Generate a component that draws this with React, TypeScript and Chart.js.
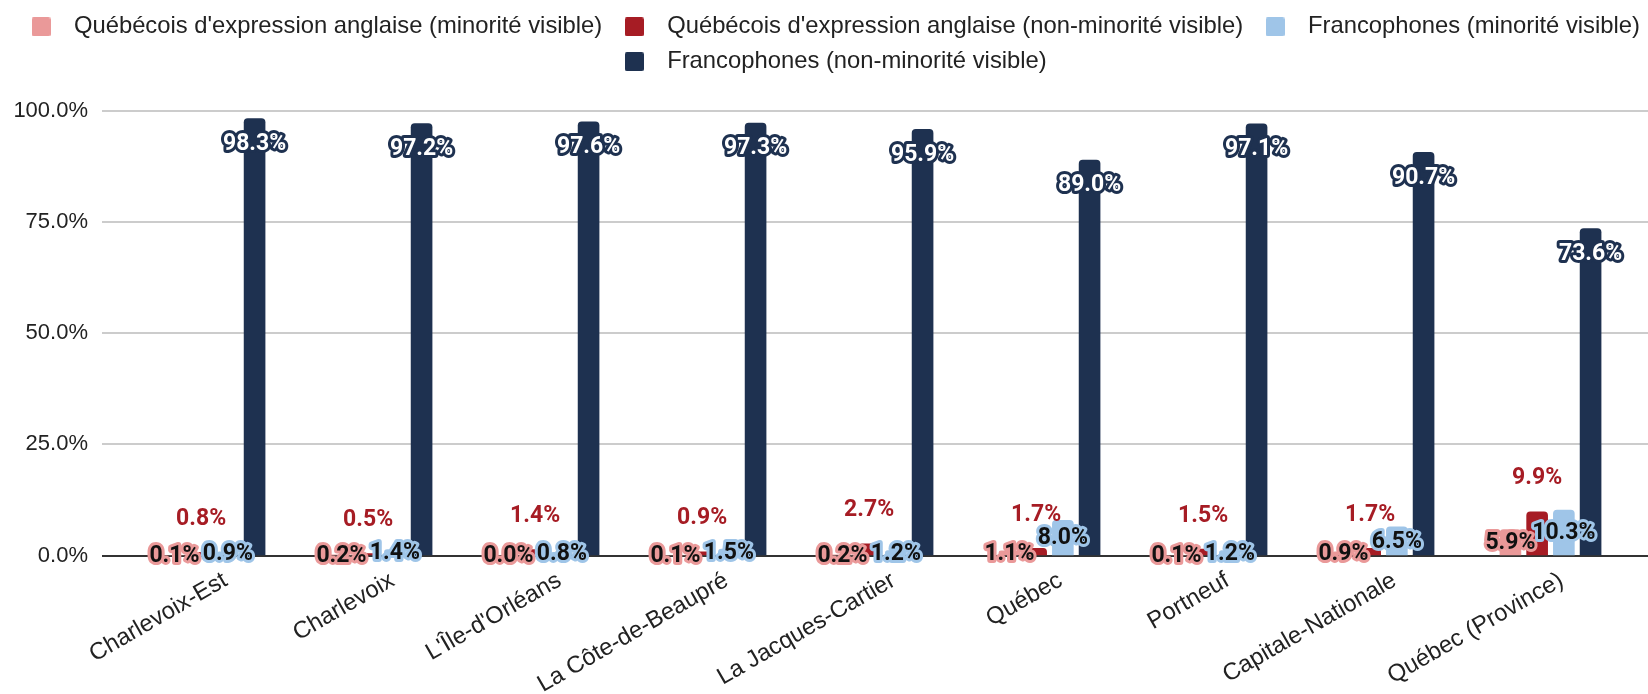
import React, { useEffect, useRef } from 'react';
import { Chart, registerables } from 'chart.js';

Chart.register(...registerables);

const categories = [
  'Charlevoix-Est',
  'Charlevoix',
  "L'Île-d'Orléans",
  'La Côte-de-Beaupré',
  'La Jacques-Cartier',
  'Québec',
  'Portneuf',
  'Capitale-Nationale',
  'Québec (Province)',
];

const seriesLabels = [
  "Québécois d'expression anglaise (minorité visible)",
  "Québécois d'expression anglaise (non-minorité visible)",
  'Francophones (minorité visible)',
  'Francophones (non-minorité visible)',
];

const anglophonesMinorite = [0.1, 0.2, 0.0, 0.1, 0.2, 1.1, 0.1, 0.9, 5.9];
const anglophonesNonMinorite = [0.8, 0.5, 1.4, 0.9, 2.7, 1.7, 1.5, 1.7, 9.9];
const francophonesMinorite = [0.9, 1.4, 0.8, 1.5, 1.2, 8.0, 1.2, 6.5, 10.3];
const francophonesNonMinorite = [98.3, 97.2, 97.6, 97.3, 95.9, 89.0, 97.1, 90.7, 73.6];

const yTickValues = [0, 25, 50, 75, 100];

const COLORS = ['#ea9999', '#a61c24', '#9fc5e8', '#1e3150'];
const LABEL_FILL = ['#111111', '#a61c24', '#111111', '#ffffff'];
const LABEL_STROKE = ['#ea9999', null, '#9fc5e8', '#1e3150'];

const AXIS_FONT = "'Liberation Sans', Arial, sans-serif";

function swatch(color: string) {
  const c = document.createElement('canvas');
  c.width = 19;
  c.height = 19;
  const g = c.getContext('2d')!;
  g.fillStyle = color;
  g.beginPath();
  if ((g as any).roundRect) (g as any).roundRect(0, 0, 19, 19, 2);
  else g.rect(0, 0, 19, 19);
  g.fill();
  return c;
}

const gridPlugin = {
  id: 'customGrid',
  beforeDatasetsDraw(chart: any) {
    const { ctx, chartArea, scales } = chart;
    const y = scales.y;
    ctx.save();
    yTickValues.forEach((v) => {
      const py = Math.round(y.getPixelForValue(v));
      ctx.beginPath();
      ctx.lineWidth = 2;
      ctx.strokeStyle = v === 0 ? '#333333' : '#cccccc';
      ctx.moveTo(chartArea.left - 29, py);
      ctx.lineTo(chart.width, py);
      ctx.stroke();
    });
    ctx.restore();
  },
};

const labelPlugin = {
  id: 'valueLabels',
  afterDatasetsDraw(chart: any) {
    const ctx = chart.ctx;
    ctx.save();
    ctx.font = "bold 23px Roboto, 'Liberation Sans', sans-serif";
    ctx.textAlign = 'center';
    ctx.textBaseline = 'middle';
    ctx.lineJoin = 'round';
    chart.data.datasets.forEach((ds: any, di: number) => {
      const meta = chart.getDatasetMeta(di);
      meta.data.forEach((bar: any, i: number) => {
        const v = ds.data[i] as number;
        const text = v.toFixed(1) + '%';
        const { x, y, base } = bar.getProps(['x', 'y', 'base'], true);
        let ly = (y + base) / 2 + 1;
        if (di === 1) ly = y - 33;
        if (di === 3) ly = y + 26;
        const stroke = LABEL_STROKE[di];
        if (stroke) {
          ctx.lineWidth = 6;
          ctx.strokeStyle = stroke;
          ctx.strokeText(text, x, ly);
        }
        ctx.fillStyle = LABEL_FILL[di];
        ctx.fillText(text, x, ly);
      });
    });
    ctx.restore();
  },
};

const legendPlugin = {
  id: 'legendHeight',
  afterInit(chart: any) {
    const legend = chart.legend;
    if (legend && !legend.__patched) {
      const orig = legend.fit;
      legend.fit = function () {
        const mw = this.maxWidth;
        this.maxWidth = mw + 20;
        orig.call(this);
        this.maxWidth = mw;
        this.width = mw;
        this.height = 106.7;
      };
      legend.__patched = true;
    }
  },
  afterLayout(chart: any) {
    const legend = chart.legend;
    if (legend) {
      legend.left = -2;
      legend.right = 1662;
    }
  },
};

export default function App() {
  const ref = useRef<HTMLCanvasElement>(null);

  useEffect(() => {
    const canvas = ref.current;
    if (!canvas) return;
    const values = [anglophonesMinorite, anglophonesNonMinorite, francophonesMinorite, francophonesNonMinorite];
    const chart = new Chart(canvas, {
      type: 'bar',
      data: {
        labels: categories,
        datasets: values.map((d, i) => ({
          label: seriesLabels[i],
          data: d,
          backgroundColor: COLORS[i],
          borderRadius: 4,
          borderSkipped: 'start',
          categoryPercentage: 0.64,
          barPercentage: 0.81,
        })),
      },
      options: {
        animation: false,
        responsive: false,
        devicePixelRatio: 1,
        layout: { padding: { top: 4, right: 14, left: 0, bottom: 0 } },
        plugins: {
          tooltip: { enabled: false },
          legend: {
            position: 'top',
            align: 'center',
            labels: {
              usePointStyle: true,
              pointStyleWidth: 42,
              boxHeight: 19,
              padding: 11,
              color: '#222222',
              font: { family: AXIS_FONT, size: 23.8 },
              generateLabels: (c: any) => {
                const items = Chart.defaults.plugins.legend.labels.generateLabels(c);
                return items.map((it: any, i: number) => ({ ...it, pointStyle: swatch(COLORS[i]) }));
              },
            },
          },
        },
        scales: {
          x: {
            grid: { display: false, drawTicks: false },
            border: { display: false },
            ticks: {
              autoSkip: false,
              minRotation: 30,
              maxRotation: 30,
              padding: 11,
              labelOffset: 11,
              color: '#222222',
              font: { family: AXIS_FONT, size: 23.8 },
            },
            afterFit: (s: any) => {
              s.height = 138.5;
            },
          },
          y: {
            min: 0,
            max: 100,
            grid: { display: false, drawTicks: false },
            border: { display: false },
            ticks: {
              stepSize: 25,
              padding: 43,
              color: '#222222',
              font: { family: AXIS_FONT, size: 22 },
              callback: (v: any) => Number(v).toFixed(1) + '%',
            },
            afterFit: (s: any) => {
              s.width = 131;
            },
          },
        },
      } as any,
      plugins: [gridPlugin, labelPlugin, legendPlugin],
    });
    return () => chart.destroy();
  }, []);

  return (
    <div style={{ position: 'absolute', left: 0, top: 0, width: 1648, height: 694, background: '#ffffff' }}>
      <canvas ref={ref} width={1648} height={694} style={{ display: 'block', width: 1648, height: 694 }} />
    </div>
  );
}
